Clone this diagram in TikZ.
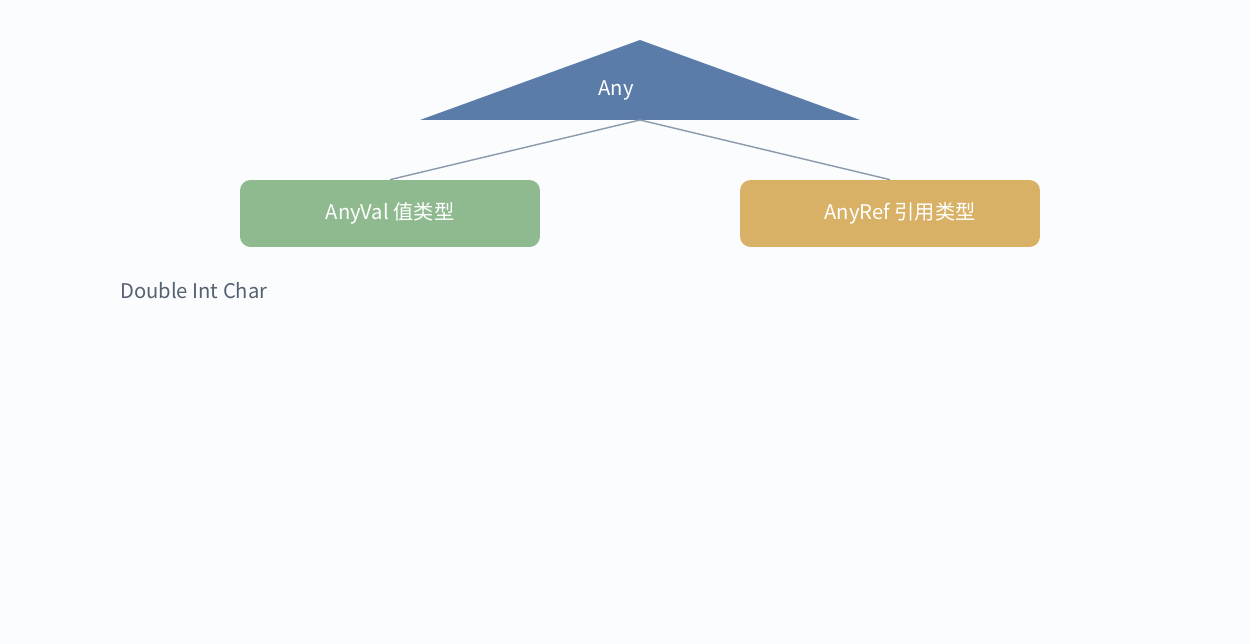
\documentclass[tikz,border=0pt]{standalone}
\usepackage{fontspec}
\setmainfont{Noto Sans CJK SC}
\usepackage{xcolor}
\usetikzlibrary{positioning}
\definecolor{bgcol}{HTML}{FAFCFE}
\definecolor{anycol}{HTML}{5B7BA8}
\definecolor{valcol}{HTML}{8FBA8F}
\definecolor{refcol}{HTML}{D9B166}
\definecolor{linkcol}{HTML}{8A9AAA}
\definecolor{txtcol}{HTML}{556070}
\begin{document}
\begin{tikzpicture}[x=0.02cm, y=-0.02cm,
  box/.style={rounded corners=6pt, minimum width=6cm, minimum height=1.34cm, text=white, font=\fontsize{11.5}{14}\selectfont},
  link/.style={draw=linkcol, line width=0.8pt}]
% Background
\fill[bgcol] (0,0) rectangle (1250,644);
\useasboundingbox (0,0) rectangle (1250,644);

% Root triangle
\fill[anycol] (640,40) -- (860,120) -- (420,120) -- cycle;
\node[text=white, font=\fontsize{11.5}{14}\selectfont] (any) at (616,90) {Any};
\coordinate (anybase) at (640,120);

% Children
\node[box, fill=valcol] (anyval) at (390,213.5) {AnyVal 值类型};
\node[box, fill=refcol] (anyref) at (890,213.5) {\hspace{0.4cm}AnyRef 引用类型};

\draw[link] (anybase) -- (anyval.north);
\draw[link] (anybase) -- (anyref.north);

% Value types
\node[anchor=west, text=txtcol, font=\fontsize{11.5}{14}\selectfont, inner sep=0pt] (valtypes) at (120,291) {Double Int Char};
\end{tikzpicture}
\end{document}
